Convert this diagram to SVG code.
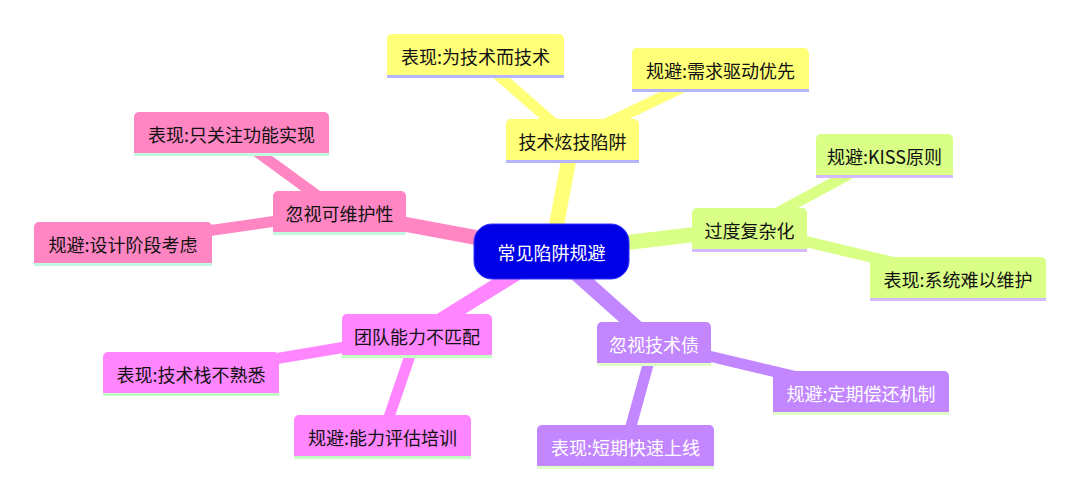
<svg xmlns="http://www.w3.org/2000/svg" width="1080" height="502" viewBox="0 0 1080 502">
<style>
text{font-family:"Noto Sans CJK SC","Noto Sans",sans-serif;font-size:18px;text-anchor:middle;dominant-baseline:central;fill:#111}
.e0{stroke-width:15;fill:none}
.e1{stroke-width:11;fill:none}
.ul{stroke-width:3}
.y{fill:#ffff78}.ys{stroke:#ffff78}.yl{stroke:#b4b4ff}
.g{fill:#d9ff86}.gs{stroke:#d9ff86}.gl{stroke:#d6baff}
.p{fill:#ff86c2}.ps{stroke:#ff86c2}.pl{stroke:#c2f7e0}
.m{fill:#ff86ff}.ms{stroke:#ff86ff}.ml{stroke:#c2ffc2}
.u{fill:#c286ff}.us{stroke:#c286ff}.ull{stroke:#e0ffc8}
.w{fill:#ffffff}
</style>
<g id="connectors">
<line class="e0 ys" x1="551.5" y1="251.5" x2="572.5" y2="140"/>
<line class="e1 ys" x1="572.5" y1="140" x2="475.5" y2="55"/>
<line class="e1 ys" x1="572.5" y1="140" x2="720.5" y2="69"/>
<line class="e0 gs" x1="551.5" y1="251.5" x2="749.5" y2="228"/>
<line class="e1 gs" x1="749.5" y1="228" x2="884.5" y2="155"/>
<line class="e1 gs" x1="749.5" y1="228" x2="958" y2="278"/>
<line class="e0 ps" x1="551.5" y1="251.5" x2="339.5" y2="212"/>
<line class="e1 ps" x1="339.5" y1="212" x2="231.5" y2="133"/>
<line class="e1 ps" x1="339.5" y1="212" x2="123" y2="243"/>
<line class="e0 ms" x1="551.5" y1="251.5" x2="417" y2="335"/>
<line class="e1 ms" x1="417" y1="335" x2="191" y2="373"/>
<line class="e1 ms" x1="417" y1="335" x2="382.5" y2="436"/>
<line class="e0 us" x1="551.5" y1="251.5" x2="654" y2="343"/>
<line class="e1 us" x1="654" y1="343" x2="861" y2="392"/>
<line class="e1 us" x1="654" y1="343" x2="625.5" y2="446"/>
</g>
<g id="root">
<rect x="474" y="224" width="155" height="55" rx="18" fill="#0000e6" stroke="#3030ff" stroke-width="1"/>
<text class="w" x="551.5" y="251.5">常见陷阱规避</text>
</g>
<g id="sec-yellow">
<path class="y" d="M506 160 V124 a5 5 0 0 1 5 -5 H634 a5 5 0 0 1 5 5 V160 Z"/>
<line class="ul yl" x1="506" y1="161.5" x2="639" y2="161.5"/>
<text x="572.5" y="140.5">技术炫技陷阱</text>
</g>
<g id="y-c1">
<path class="y" d="M387 75 V39 a5 5 0 0 1 5 -5 H559 a5 5 0 0 1 5 5 V75 Z"/>
<line class="ul yl" x1="387" y1="76.5" x2="564" y2="76.5"/>
<text x="475.5" y="55.5">表现:为技术而技术</text>
</g>
<g id="y-c2">
<path class="y" d="M632 89 V53 a5 5 0 0 1 5 -5 H804 a5 5 0 0 1 5 5 V89 Z"/>
<line class="ul yl" x1="632" y1="90.5" x2="809" y2="90.5"/>
<text x="720.5" y="69.5">规避:需求驱动优先</text>
</g>
<g id="sec-green">
<path class="g" d="M692 249 V213 a5 5 0 0 1 5 -5 H802 a5 5 0 0 1 5 5 V249 Z"/>
<line class="ul gl" x1="692" y1="250.5" x2="807" y2="250.5"/>
<text x="749.5" y="229.5">过度复杂化</text>
</g>
<g id="g-c1">
<path class="g" d="M816 175 V139 a5 5 0 0 1 5 -5 H948 a5 5 0 0 1 5 5 V175 Z"/>
<line class="ul gl" x1="816" y1="176.5" x2="953" y2="176.5"/>
<text x="884.5" y="155.5">规避:KISS原则</text>
</g>
<g id="g-c2">
<path class="g" d="M870 298 V262 a5 5 0 0 1 5 -5 H1041 a5 5 0 0 1 5 5 V298 Z"/>
<line class="ul gl" x1="870" y1="299.5" x2="1046" y2="299.5"/>
<text x="958" y="278.5">表现:系统难以维护</text>
</g>
<g id="sec-pink">
<path class="p" d="M273 232 V196 a5 5 0 0 1 5 -5 H401 a5 5 0 0 1 5 5 V232 Z"/>
<line class="ul pl" x1="273" y1="233.5" x2="406" y2="233.5"/>
<text x="339.5" y="212.5">忽视可维护性</text>
</g>
<g id="p-c1">
<path class="p" d="M134 153 V117 a5 5 0 0 1 5 -5 H324 a5 5 0 0 1 5 5 V153 Z"/>
<line class="ul pl" x1="134" y1="154.5" x2="329" y2="154.5"/>
<text x="231.5" y="133.5">表现:只关注功能实现</text>
</g>
<g id="p-c2">
<path class="p" d="M34 263 V227 a5 5 0 0 1 5 -5 H207 a5 5 0 0 1 5 5 V263 Z"/>
<line class="ul pl" x1="34" y1="264.5" x2="212" y2="264.5"/>
<text x="123" y="243.5">规避:设计阶段考虑</text>
</g>
<g id="sec-magenta">
<path class="m" d="M342 355 V319 a5 5 0 0 1 5 -5 H487 a5 5 0 0 1 5 5 V355 Z"/>
<line class="ul ml" x1="342" y1="356.5" x2="492" y2="356.5"/>
<text x="417" y="335.5">团队能力不匹配</text>
</g>
<g id="m-c1">
<path class="m" d="M103 393 V357 a5 5 0 0 1 5 -5 H274 a5 5 0 0 1 5 5 V393 Z"/>
<line class="ul ml" x1="103" y1="394.5" x2="279" y2="394.5"/>
<text x="191" y="373.5">表现:技术栈不熟悉</text>
</g>
<g id="m-c2">
<path class="m" d="M294 456 V420 a5 5 0 0 1 5 -5 H466 a5 5 0 0 1 5 5 V456 Z"/>
<line class="ul ml" x1="294" y1="457.5" x2="471" y2="457.5"/>
<text x="382.5" y="436.5">规避:能力评估培训</text>
</g>
<g id="sec-purple">
<path class="u" d="M597 363 V327 a5 5 0 0 1 5 -5 H706 a5 5 0 0 1 5 5 V363 Z"/>
<line class="ul ull" x1="597" y1="364.5" x2="711" y2="364.5"/>
<text class="w" x="654" y="343.5">忽视技术债</text>
</g>
<g id="u-c1">
<path class="u" d="M773 412 V376 a5 5 0 0 1 5 -5 H944 a5 5 0 0 1 5 5 V412 Z"/>
<line class="ul ull" x1="773" y1="413.5" x2="949" y2="413.5"/>
<text class="w" x="861" y="392.5">规避:定期偿还机制</text>
</g>
<g id="u-c2">
<path class="u" d="M537 466 V430 a5 5 0 0 1 5 -5 H709 a5 5 0 0 1 5 5 V466 Z"/>
<line class="ul ull" x1="537" y1="467.5" x2="714" y2="467.5"/>
<text class="w" x="625.5" y="446.5">表现:短期快速上线</text>
</g>
</svg>
